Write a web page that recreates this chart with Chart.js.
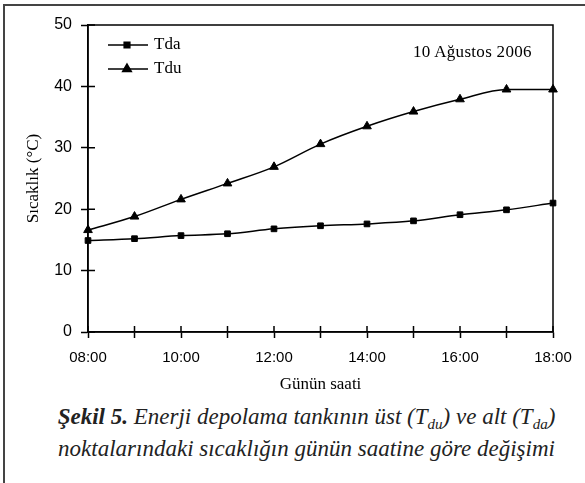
<!DOCTYPE html>
<html>
<head>
<meta charset="utf-8">
<script src="https://cdn.jsdelivr.net/npm/chart.js@4.4.0/dist/chart.umd.min.js"></script>
<style>
  html, body { margin: 0; padding: 0; background: #fff; }
  #wrap { position: relative; width: 585px; height: 483px; overflow: hidden; }
  #frame { position: absolute; left: 3px; top: 4px; width: 600px; height: 500px;
           border: 2px solid #444; }
  #chartBox { position: absolute; left: 0; top: 0; width: 585px; height: 395px; }
  #date { position: absolute; left: 413px; top: 42px; font-family: "Liberation Serif", "DejaVu Serif", serif;
          font-size: 17px; color: #000; letter-spacing: 0.3px; }
  #caption { position: absolute; left: 14px; top: 401px; width: 585px; text-align: center;
             font-family: "Liberation Serif", "Times New Roman", serif; font-style: italic;
             font-size: 23px; line-height: 32px; color: #222; }
  #caption b { font-weight: bold; }
  #caption sub { font-size: 15px; vertical-align: -5px; line-height: 0; }
</style>
</head>
<body>
<div id="wrap">
  <div id="frame"></div>
  <div id="chartBox"><canvas id="chart"></canvas></div>
  <div id="date">10 Ağustos 2006</div>
  <div id="caption"><b>Şekil 5.</b> Enerji depolama tankının üst (T<sub>du</sub>) ve alt (T<sub>da</sub>)<br>noktalarındaki sıcaklığın günün saatine göre değişimi</div>
</div>
<script>
// saat etiketleri ve ölçümler
const hours = ['08:00', '09:00', '10:00', '11:00', '12:00', '13:00', '14:00', '15:00', '16:00', '17:00', '18:00'];
const tda = [14.9, 15.2, 15.7, 16.0, 16.8, 17.3, 17.6, 18.1, 19.1, 19.9, 21.0];
const tdu = [16.6, 18.8, 21.6, 24.2, 26.9, 30.6, 33.5, 35.9, 37.9, 39.5, 39.5];
const yTicks = [0, 10, 20, 30, 40, 50];

const serif = '"Liberation Serif", "DejaVu Serif", serif';
const sans = '"Liberation Sans", sans-serif';

// plot box, inward tick halves and the legend inside the plot
const framePlugin = {
    id: 'framePlugin',
    afterDraw(chart) {
        const ctx = chart.ctx;
        const a = chart.chartArea;
        const xs = chart.scales.x, ys = chart.scales.y;
        ctx.save();
        ctx.strokeStyle = '#000';
        ctx.lineWidth = 1.5;
        ctx.strokeRect(a.left, a.top, a.right - a.left, a.bottom - a.top);
        ctx.beginPath();
        xs.ticks.forEach((t, i) => {
            const x = xs.getPixelForTick(i);
            ctx.moveTo(x, a.bottom);
            ctx.lineTo(x, a.bottom - 6);
        });
        ys.ticks.forEach((t, i) => {
            const y = ys.getPixelForTick(i);
            ctx.moveTo(a.left, y);
            ctx.lineTo(a.left + 7, y);
        });
        ctx.stroke();

        // legend
        chart.data.datasets.forEach((ds, i) => {
            const y = a.top + 20 + i * 24;
            const x0 = a.left + 20;
            ctx.beginPath();
            ctx.lineWidth = 1.5;
            ctx.moveTo(x0, y);
            ctx.lineTo(x0 + 40, y);
            ctx.stroke();
            Chart.helpers.drawPoint(ctx, {
                pointStyle: ds.pointStyle, radius: ds.pointRadius, rotation: 0, borderWidth: 1
            }, x0 + 19, y);
            ctx.fillStyle = '#000';
            ctx.font = '17px ' + serif;
            ctx.textBaseline = 'middle';
            ctx.fillText(ds.label, x0 + 46, y);
        });
        ctx.restore();
    }
};

new Chart(document.getElementById('chart'), {
    type: 'line',
    data: {
        labels: hours,
        datasets: [{
            label: 'Tda',
            data: tda,
            borderColor: '#000',
            backgroundColor: '#000',
            borderWidth: 1.5,
            pointStyle: 'rect',
            pointRadius: 4,
            pointBorderWidth: 1,
            cubicInterpolationMode: 'monotone'
        }, {
            label: 'Tdu',
            data: tdu,
            borderColor: '#000',
            backgroundColor: '#000',
            borderWidth: 1.5,
            pointStyle: 'triangle',
            pointRadius: 5,
            pointBorderWidth: 1,
            cubicInterpolationMode: 'monotone'
        }]
    },
    options: {
        responsive: true,
        maintainAspectRatio: false,
        animation: false,
        layout: { padding: { left: 0, top: 25, right: 32, bottom: 0 } },
        plugins: {
            legend: { display: false },
            tooltip: { enabled: false }
        },
        scales: {
            x: {
                grid: { drawOnChartArea: false, color: '#000', tickLength: 6, tickWidth: 1.5 },
                border: { color: '#000', width: 1.5 },
                ticks: {
                    autoSkip: false,
                    maxRotation: 0,
                    padding: 11,
                    color: '#000',
                    font: { family: sans, size: 15 },
                    callback: function(value, index) {
                        return index % 2 === 0 ? hours[index] : '';
                    }
                },
                title: {
                    display: true,
                    text: 'Günün saati',
                    color: '#000',
                    font: { family: serif, size: 17 },
                    padding: { top: 2, bottom: 0 }
                },
                afterFit: function(scale) { scale.height = 63; }
            },
            y: {
                min: 0,
                max: 50,
                afterBuildTicks: function(scale) {
                    scale.ticks = yTicks.map(v => ({ value: v }));
                },
                grid: { drawOnChartArea: false, color: '#000', tickLength: 7, tickWidth: 1.5 },
                border: { color: '#000', width: 1.5 },
                ticks: {
                    padding: 9,
                    color: '#000',
                    font: { family: sans, size: 16 }
                },
                title: {
                    display: true,
                    text: 'Sıcaklık (°C)',
                    color: '#000',
                    font: { family: serif, size: 17 },
                    padding: { top: 23, bottom: 0 }
                },
                afterFit: function(scale) { scale.width = 88; }
            }
        }
    },
    plugins: [framePlugin]
});
</script>
</body>
</html>
